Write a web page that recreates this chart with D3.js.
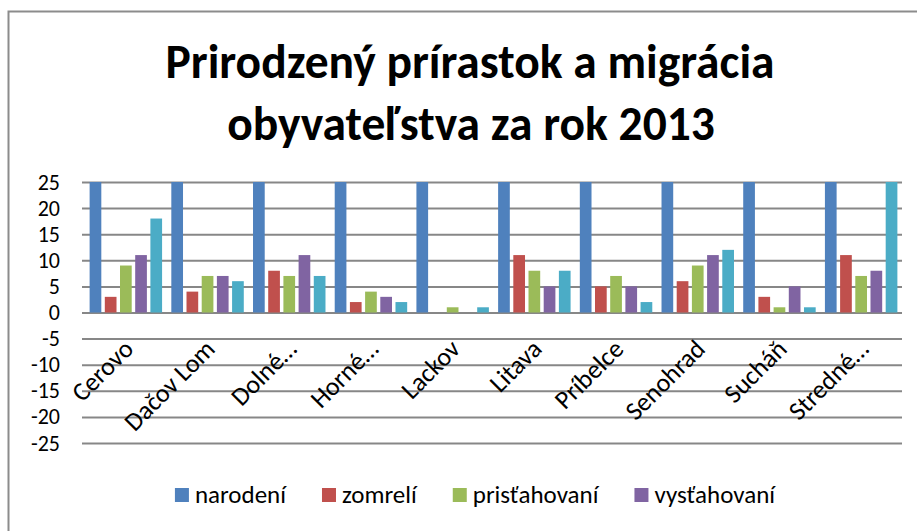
<!DOCTYPE html>
<html>
<head>
<meta charset="utf-8">
<script src="https://cdn.jsdelivr.net/npm/d3@7"></script>
<style>
  html, body { margin: 0; padding: 0; background: #fff; }
  svg { display: block; }
  text { font-family: Carlito, Calibri, Lato, "Open Sans", sans-serif; fill: #000; }
</style>
</head>
<body>
<svg id="chart" width="917" height="531"></svg>
<script>
// village names (Excel truncated the long ones)
const categories = ["Cerovo", "Dačov Lom", "Dolné…", "Horné…", "Lackov",
                    "Litava", "Príbelce", "Senohrad", "Sucháň", "Stredné…"];

const seriesNames = ["narodení", "zomrelí", "prisťahovaní", "vysťahovaní", "prírastok"];

// values above 25 are cut off by the axis in the original
const narodeni     = [30, 30, 30, 30, 30, 30, 30, 30, 30, 30];
const zomreli      = [3, 4, 8, 2, 0, 11, 5, 6, 3, 11];
const pristahovani = [9, 7, 7, 4, 1, 8, 7, 9, 1, 7];
const vystahovani  = [11, 7, 11, 3, 0, 5, 5, 11, 5, 8];
const prirastok    = [18, 6, 7, 2, 1, 8, 2, 12, 1, 30];

const yTicks = [-25, -20, -15, -10, -5, 0, 5, 10, 15, 20, 25];
const colors = ["#4F81BD", "#C0504D", "#9BBB59", "#8064A2", "#4BACC6"];
const legendCount = 4; // only the first four fit in the legend

const allSeries = [narodeni, zomreli, pristahovani, vystahovani, prirastok];

const svg = d3.select("#chart");

const plot = { left: 85, right: 902, top: 182, bottom: 443 };

// chart area frame, runs off the right and bottom edge
svg.append("rect")
    .attr("x", 8.5).attr("y", 11.5)
    .attr("width", 940).attr("height", 540)
    .attr("fill", "#fff")
    .attr("stroke", "#8c8c8c")
    .attr("stroke-width", 2);

// title
const title = svg.append("text")
    .attr("text-anchor", "middle")
    .attr("font-weight", "bold")
    .attr("font-size", 47.5);
title.append("tspan").attr("x", 470).attr("y", 78).text("Prirodzený prírastok a migrácia");
title.append("tspan").attr("x", 471).attr("y", 140).text("obyvateľstva za rok 2013");

const x0 = d3.scaleBand()
    .domain(categories)
    .range([plot.left, plot.right])
    .paddingInner(0.113)
    .paddingOuter(0.0565);

const x1 = d3.scaleBand()
    .domain(d3.range(allSeries.length))
    .range([0, x0.bandwidth()])
    .paddingInner(0.23)
    .paddingOuter(0);

const y = d3.scaleLinear()
    .domain([-25, 25])
    .range([plot.bottom, plot.top]);

// gridlines + y labels
const yAxis = d3.axisLeft(y)
    .tickValues(yTicks)
    .tickSize(-(plot.right - plot.left + 3))
    .tickPadding(22)
    .tickFormat(d => String(d));

const gy = svg.append("g")
    .attr("transform", "translate(" + (plot.left - 3) + ",0)")
    .call(yAxis);
gy.select(".domain").remove();
gy.selectAll(".tick line")
    .attr("stroke", "#878787")
    .attr("stroke-width", 2);
gy.selectAll(".tick text")
    .attr("font-size", 22)
    .attr("fill", "#000")
    .style("font-family", "Carlito, Calibri, Lato, sans-serif");

// clip bars to the plot area
svg.append("clipPath").attr("id", "plotClip")
    .append("rect")
    .attr("x", plot.left - 5).attr("y", plot.top)
    .attr("width", plot.right - plot.left + 10)
    .attr("height", plot.bottom - plot.top);

const groups = svg.append("g")
    .attr("clip-path", "url(#plotClip)")
    .selectAll("g")
    .data(categories)
    .join("g")
    .attr("transform", d => "translate(" + x0(d) + ",0)");

groups.selectAll("rect")
    .data((d, i) => allSeries.map((s, k) => ({ k: k, v: s[i] })))
    .join("rect")
    .attr("x", d => x1(d.k))
    .attr("width", x1.bandwidth())
    .attr("y", d => y(Math.max(0, d.v)))
    .attr("height", d => Math.abs(y(d.v) - y(0)))
    .attr("fill", d => colors[d.k]);

// category labels, rotated
const cx = d => x0(d) + x0.bandwidth() / 2;
svg.append("g")
    .selectAll("text")
    .data(categories)
    .join("text")
    .attr("text-anchor", "end")
    .attr("font-size", 26)
    .attr("transform", d => "translate(" + (cx(d) + 9) + "," + (y(0) + 38) + ") rotate(-45)")
    .text(d => d);

// legend
const legend = svg.append("g");
const items = legend.selectAll("g")
    .data(seriesNames.slice(0, legendCount))
    .join("g");
items.append("rect")
    .attr("width", 14).attr("height", 14)
    .attr("y", 488)
    .attr("fill", (d, i) => colors[i]);
items.append("text")
    .attr("x", 20)
    .attr("y", 503)
    .attr("font-size", 25)
    .text(d => d);

const gap = 36;
let pos = 0;
const offsets = [];
items.each(function () {
    offsets.push(pos);
    pos += 20 + this.querySelector("text").getComputedTextLength() + gap;
});
const legendWidth = pos - gap;
const legendStart = 475 - legendWidth / 2;
items.attr("transform", (d, i) => "translate(" + (legendStart + offsets[i]) + ",0)");
</script>
</body>
</html>
